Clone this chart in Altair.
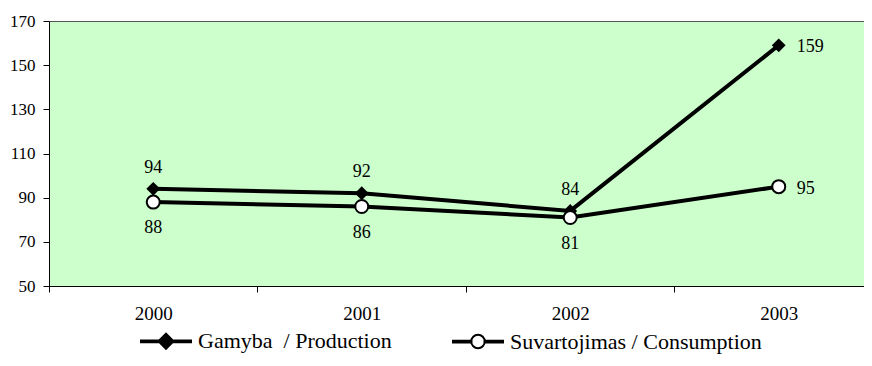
import altair as alt
import pandas as pd

years = [2000, 2001, 2002, 2003]
production = [94, 92, 84, 159]
consumption = [88, 86, 81, 95]
series_names = ["Gamyba\u00a0 / Production", "Suvartojimas / Consumption"]
y_ticks = [50, 70, 90, 110, 130, 150, 170]
x_values = [1999.5, 2000, 2000.5, 2001, 2001.5, 2002, 2002.5, 2003]

FONT = "Liberation Serif"

rows = []
for yr, v in zip(years, production):
    rows.append({"year": yr, "value": v, "series": series_names[0]})
for yr, v in zip(years, consumption):
    rows.append({"year": yr, "value": v, "series": series_names[1]})
df = pd.DataFrame(rows)

x_enc = alt.X(
    "year:Q",
    scale=alt.Scale(domain=[1999.5, 2003.409], nice=False, zero=False),
    axis=alt.Axis(
        values=x_values,
        labelExpr="datum.value % 1 == 0 ? toString(datum.value) : ''",
        tickColor={"condition": {"test": "datum.value % 1 == 0", "value": "transparent"}, "value": "black"},
        tickSize=6,
        labelPadding=12,
        labelFont=FONT,
        labelFontSize=19,
        labelColor="black",
        labelOverlap=False,
        labelFlush=False,
        domainColor="black",
        domainWidth=1,
        grid=False,
        title=None,
    ),
)
y_enc = alt.Y(
    "value:Q",
    scale=alt.Scale(domain=[50, 170], nice=False, zero=False),
    axis=alt.Axis(
        values=y_ticks,
        tickSize=6,
        tickColor="black",
        labelPadding=8,
        labelFont=FONT,
        labelFontSize=17,
        labelColor="black",
        domainColor="black",
        grid=False,
        title=None,
    ),
)

base = alt.Chart(df)

lines = base.mark_line(color="black", strokeWidth=4).encode(
    x=x_enc, y=y_enc, detail="series:N"
)

prod_pts = base.transform_filter(alt.datum.series == series_names[0]).mark_point(
    shape="diamond", filled=True, color="black", size=190, opacity=1
).encode(x="year:Q", y="value:Q")

cons_pts = base.transform_filter(alt.datum.series == series_names[1]).mark_point(
    shape="circle", filled=True, fill="white", stroke="black", strokeWidth=2, size=169, opacity=1
).encode(x="year:Q", y="value:Q")

txt = dict(font=FONT, fontSize=18, color="black")

prod_lbl = base.transform_filter(
    (alt.datum.series == series_names[0]) & (alt.datum.year < 2003)
).mark_text(dy=-21, **txt).encode(x="year:Q", y="value:Q", text="value:Q")

cons_lbl = base.transform_filter(
    (alt.datum.series == series_names[1]) & (alt.datum.year < 2003)
).mark_text(dy=26, **txt).encode(x="year:Q", y="value:Q", text="value:Q")

end_lbl = base.transform_filter(alt.datum.year == 2003).mark_text(
    align="left", dx=18, dy=2, **txt
).encode(x="year:Q", y="value:Q", text="value:Q")

h = 0.035
path_prod = f"M-1,-{h}H1V{h}H-1Z M-0.3,0L0,-0.3L0.3,0L0,0.3Z"
r = 0.27
k = round(0.5523 * r, 4)
path_cons = (
    f"M-1,-{h}H-0.26V{h}H-1Z M0.26,-{h}H1V{h}H0.26Z "
    f"M{r},0C{r},{k} {k},{r} 0,{r}C-{k},{r} -{r},{k} -{r},0"
    f"C-{r},-{k} -{k},-{r} 0,-{r}C{k},-{r} {r},-{k} {r},0Z"
)

legend = alt.Legend(
    title=None,
    orient="none",
    legendX=91,
    legendY=294,
    direction="horizontal",
    labelFont=FONT,
    labelFontSize=22,
    labelColor="black",
    labelOffset=6,
    labelLimit=0,
    symbolSize=2500,
    symbolStrokeColor="black",
    symbolStrokeWidth=2,
    columnPadding=57,
    padding=0,
)

legend_layer = base.transform_filter("false").mark_point(
    filled=True, strokeWidth=2, opacity=1
).encode(
    shape=alt.Shape("series:N", scale=alt.Scale(domain=series_names, range=[path_prod, path_cons]), legend=legend),
    fill=alt.Fill("series:N", scale=alt.Scale(domain=series_names, range=["black", "white"]), legend=legend),
    stroke=alt.Stroke("series:N", scale=alt.Scale(domain=series_names, range=["black", "black"]), legend=legend),
)

chart = alt.layer(
    lines, prod_pts, cons_pts, prod_lbl, cons_lbl, end_lbl, legend_layer
).properties(
    width=815,
    height=265,
    autosize=alt.AutoSizeParams(type="none"),
    padding={"left": 41, "top": 13, "right": 0, "bottom": 70},
    background="white",
    view=alt.ViewBackground(fill="#CCFFCC", stroke="#555555", strokeWidth=1),
).configure(
    font=FONT,
).configure_view(
    fill="#CCFFCC",
    stroke="#555555",
    strokeWidth=1,
)

chart.save("out.html", embed_options={"renderer": "svg", "actions": False})
